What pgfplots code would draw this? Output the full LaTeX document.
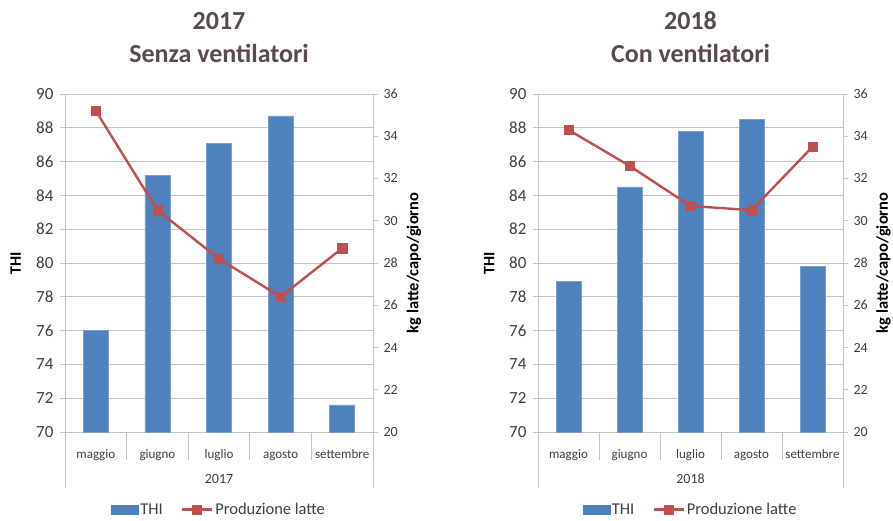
\documentclass[border=0pt]{standalone}
\usepackage{fontspec}
\setmainfont{Carlito}
\usepackage{pgfplots}
\pgfplotsset{compat=1.18}

\definecolor{barblue}{HTML}{4F81BD}
\definecolor{linered}{HTML}{C0504D}
\definecolor{gridgray}{HTML}{C4C4C4}
\definecolor{txt}{HTML}{404040}
\definecolor{titlecol}{HTML}{5A4A4C}

\tikzset{seps/.style={gridgray, line width=0.8pt}}

\pgfplotsset{
  base/.style={scale only axis, height=338pt, xmin=-0.5, xmax=4.5, clip=false,
    /pgf/number format/assume math mode=true,
    tick align=outside, major tick length=5pt,
    axis line style={gridgray, line width=0.8pt},
    every tick/.style={gridgray, line width=0.8pt}},
  barax/.style={base, ymin=70, ymax=90, ytick={70,72,...,90},
    axis y line*=left, axis x line*=bottom,
    ymajorgrids, grid style={gridgray, line width=0.8pt},
    xtick={0,1,2,3,4}, xticklabels={maggio,giugno,luglio,agosto,settembre},
    xtick style={draw=none},
    xticklabel style={font=\fontsize{13}{13}\selectfont, text=txt, anchor=base, yshift=-22pt},
    yticklabel style={font=\fontsize{17}{17}\selectfont, text=txt, xshift=-3pt},
    ylabel={THI},
    ylabel style={font=\bfseries\fontsize{16}{16}\selectfont, text=black, at={(axis description cs:-0.16,0.5)}, anchor=center}},
  lineax/.style={base, ymin=20, ymax=36, ytick={20,22,...,36},
    axis y line*=right, axis x line=none, xtick=\empty,
    yticklabel style={font=\fontsize{14}{14}\selectfont, text=txt, xshift=2pt},
    ylabel={kg latte/capo/giorno},
    ylabel style={font=\bfseries\fontsize{16.5}{16.5}\selectfont, text=black, at={(axis description cs:1.133,0.5)}, anchor=center},
    legend style={at={(0.5,0)}, anchor=north, yshift=-67pt, draw=none, fill=none,
      font=\fontsize{16.5}{16.5}\selectfont, text=txt,
      /tikz/every even column/.append style={column sep=16pt}},
    legend columns=2},
  barstyle/.style={ybar, bar width=25pt, fill=barblue, draw=barblue!75!white, line width=0.5pt},
  linestyle/.style={linered, line width=2.4pt, mark=square*, mark size=4.6pt,
    mark options={fill=linered, draw=linered, line width=0.5pt},
    legend image code/.code={\draw[mark repeat=2, mark phase=2, ##1] plot coordinates {(0pt,0pt) (15pt,0pt) (30pt,0pt)};}},
  thilegend/.style={legend image code/.code={\fill[barblue] (0pt,-4.5pt) rectangle (27pt,4.5pt);}},
}

\pgfplotstableread{
x thi latte
0 76.0 35.2
1 85.2 30.5
2 87.1 28.2
3 88.7 26.4
4 71.6 28.7
}\dataA

\pgfplotstableread{
x thi latte
0 78.9 34.3
1 84.5 32.6
2 87.8 30.7
3 88.5 30.5
4 79.8 33.5
}\dataB

\begin{document}
\begin{tikzpicture}
\useasboundingbox (0,0) rectangle (893pt,521pt);

% ---------- Left panel: 2017 ----------
\begin{axis}[barax, width=308pt, at={(65pt,89pt)}, anchor=south west]
\addplot[barstyle] table[x=x, y=thi] {\dataA};
\draw[seps] (axis cs:0.5,70) -- ++(0pt,-28pt);
\draw[seps] (axis cs:1.5,70) -- ++(0pt,-28pt);
\draw[seps] (axis cs:2.5,70) -- ++(0pt,-28pt);
\draw[seps] (axis cs:3.5,70) -- ++(0pt,-28pt);
\draw[seps] (axis cs:-0.5,70) -- ++(0pt,-56pt);
\draw[seps] (axis cs:4.5,70) -- ++(0pt,-56pt);
\node[font=\fontsize{14}{14}\selectfont, text=txt, anchor=base, yshift=-52pt] at (axis cs:2,70) {2017};
\node[anchor=base, font=\bfseries\fontsize{26}{26}\selectfont, text=titlecol, yshift=31pt] at (rel axis cs:0.5,1) {Senza ventilatori};
\node[anchor=base, font=\bfseries\fontsize{26}{26}\selectfont, text=titlecol, yshift=64pt] at (rel axis cs:0.5,1) {2017};
\end{axis}
\begin{axis}[lineax, width=308pt, at={(65pt,89pt)}, anchor=south west]
\addlegendimage{thilegend}
\addlegendentry{THI}
\addplot[linestyle] table[x=x, y=latte] {\dataA};
\addlegendentry{Produzione latte}
\end{axis}

% ---------- Right panel: 2018 ----------
\begin{axis}[barax, width=305pt, at={(538pt,89pt)}, anchor=south west]
\addplot[barstyle] table[x=x, y=thi] {\dataB};
\draw[seps] (axis cs:0.5,70) -- ++(0pt,-28pt);
\draw[seps] (axis cs:1.5,70) -- ++(0pt,-28pt);
\draw[seps] (axis cs:2.5,70) -- ++(0pt,-28pt);
\draw[seps] (axis cs:3.5,70) -- ++(0pt,-28pt);
\draw[seps] (axis cs:-0.5,70) -- ++(0pt,-56pt);
\draw[seps] (axis cs:4.5,70) -- ++(0pt,-56pt);
\node[font=\fontsize{14}{14}\selectfont, text=txt, anchor=base, yshift=-52pt] at (axis cs:2,70) {2018};
\node[anchor=base, font=\bfseries\fontsize{26}{26}\selectfont, text=titlecol, yshift=31pt] at (rel axis cs:0.5,1) {Con ventilatori};
\node[anchor=base, font=\bfseries\fontsize{26}{26}\selectfont, text=titlecol, yshift=64pt] at (rel axis cs:0.5,1) {2018};
\end{axis}
\begin{axis}[lineax, width=305pt, at={(538pt,89pt)}, anchor=south west]
\addlegendimage{thilegend}
\addlegendentry{THI}
\addplot[linestyle] table[x=x, y=latte] {\dataB};
\addlegendentry{Produzione latte}
\end{axis}
\end{tikzpicture}
\end{document}
